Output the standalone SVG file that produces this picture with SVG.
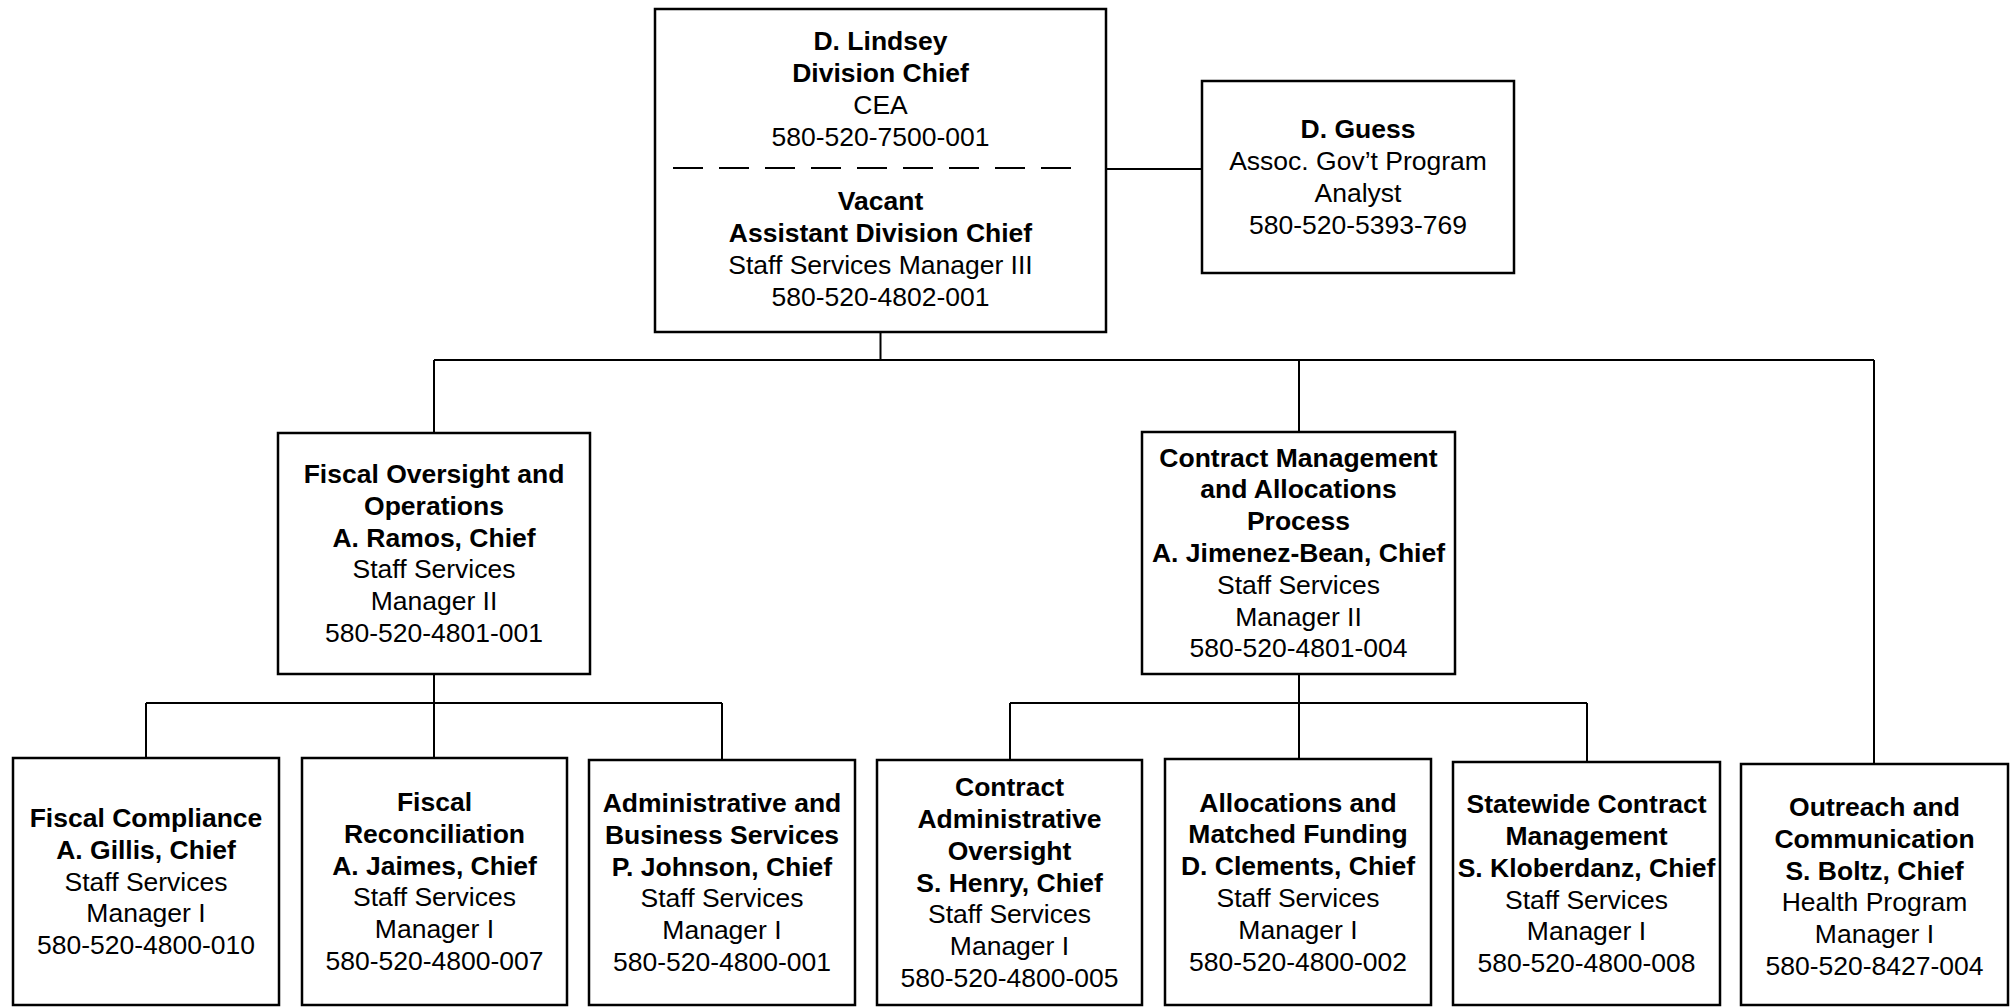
<svg xmlns="http://www.w3.org/2000/svg" width="2010" height="1007" viewBox="0 0 2010 1007">
<style>
.box{fill:#fff;stroke:#000;stroke-width:2.5}
.c{fill:none;stroke:#000;stroke-width:2}
text{font-family:"Liberation Sans",Arial,sans-serif;font-size:26.5px;text-anchor:middle;fill:#000}
.b{font-weight:bold}
.dash{stroke:#000;stroke-width:2;stroke-dasharray:30 16}
</style>
<rect width="2010" height="1007" fill="#fff"/>
<g id="connectors">
<path class="c" d="M1106,169H1202"/>
<path class="c" d="M880.5,332V360M434,360H1874M434,360V433M1299,360V432M1874,360V764"/>
<path class="c" d="M434,674V703M146,703H722M146,703V758M434,703V758M722,703V760"/>
<path class="c" d="M1299,674V703M1010,703H1587M1010,703V760M1299,703V759M1587,703V762"/>
</g>
<g id="n-lindsey">
<rect class="box" x="655" y="9" width="451" height="323"/>
<text class="b" x="880.5" y="50">D. Lindsey</text>
<text class="b" x="880.5" y="82">Division Chief</text>
<text x="880.5" y="114">CEA</text>
<text x="880.5" y="146">580-520-7500-001</text>
<line class="dash" x1="673" y1="168" x2="1072" y2="168"/>
<text class="b" x="880.5" y="210">Vacant</text>
<text class="b" x="880.5" y="242">Assistant Division Chief</text>
<text x="880.5" y="274">Staff Services Manager III</text>
<text x="880.5" y="306">580-520-4802-001</text>
</g>
<g id="n-guess">
<rect class="box" x="1202" y="81" width="312" height="192"/>
<text class="b" x="1358" y="138">D. Guess</text>
<text x="1358" y="170">Assoc. Gov’t Program</text>
<text x="1358" y="202">Analyst</text>
<text x="1358" y="234">580-520-5393-769</text>
</g>
<g id="n-fiscal-oversight">
<rect class="box" x="278" y="433" width="312" height="241"/>
<text class="b" x="434" y="483">Fiscal Oversight and</text>
<text class="b" x="434" y="515">Operations</text>
<text class="b" x="434" y="547">A. Ramos, Chief</text>
<text x="434" y="578">Staff Services</text>
<text x="434" y="610">Manager II</text>
<text x="434" y="642">580-520-4801-001</text>
</g>
<g id="n-contract-mgmt">
<rect class="box" x="1142" y="432" width="313" height="242"/>
<text class="b" x="1298.5" y="467">Contract Management</text>
<text class="b" x="1298.5" y="498">and Allocations</text>
<text class="b" x="1298.5" y="530">Process</text>
<text class="b" x="1298.5" y="562">A. Jimenez-Bean, Chief</text>
<text x="1298.5" y="594">Staff Services</text>
<text x="1298.5" y="626">Manager II</text>
<text x="1298.5" y="657">580-520-4801-004</text>
</g>
<g id="n-fiscal-compliance">
<rect class="box" x="13" y="758" width="266" height="247"/>
<text class="b" x="146" y="827">Fiscal Compliance</text>
<text class="b" x="146" y="859">A. Gillis, Chief</text>
<text x="146" y="890.5">Staff Services</text>
<text x="146" y="922">Manager I</text>
<text x="146" y="954">580-520-4800-010</text>
</g>
<g id="n-fiscal-reconciliation">
<rect class="box" x="302" y="758" width="265" height="247"/>
<text class="b" x="434.5" y="811">Fiscal</text>
<text class="b" x="434.5" y="843">Reconciliation</text>
<text class="b" x="434.5" y="875">A. Jaimes, Chief</text>
<text x="434.5" y="906">Staff Services</text>
<text x="434.5" y="938">Manager I</text>
<text x="434.5" y="970">580-520-4800-007</text>
</g>
<g id="n-admin-business">
<rect class="box" x="589" y="760" width="266" height="245"/>
<text class="b" x="722" y="812">Administrative and</text>
<text class="b" x="722" y="844">Business Services</text>
<text class="b" x="722" y="876">P. Johnson, Chief</text>
<text x="722" y="907">Staff Services</text>
<text x="722" y="939">Manager I</text>
<text x="722" y="971">580-520-4800-001</text>
</g>
<g id="n-contract-admin">
<rect class="box" x="877" y="760" width="265" height="245"/>
<text class="b" x="1009.5" y="796">Contract</text>
<text class="b" x="1009.5" y="828">Administrative</text>
<text class="b" x="1009.5" y="860">Oversight</text>
<text class="b" x="1009.5" y="891.5">S. Henry, Chief</text>
<text x="1009.5" y="923">Staff Services</text>
<text x="1009.5" y="955">Manager I</text>
<text x="1009.5" y="987">580-520-4800-005</text>
</g>
<g id="n-allocations">
<rect class="box" x="1165" y="759" width="266" height="246"/>
<text class="b" x="1298" y="811.5">Allocations and</text>
<text class="b" x="1298" y="843">Matched Funding</text>
<text class="b" x="1298" y="875">D. Clements, Chief</text>
<text x="1298" y="907">Staff Services</text>
<text x="1298" y="939">Manager I</text>
<text x="1298" y="970.5">580-520-4800-002</text>
</g>
<g id="n-statewide">
<rect class="box" x="1453" y="762" width="267" height="243"/>
<text class="b" x="1586.5" y="813">Statewide Contract</text>
<text class="b" x="1586.5" y="845">Management</text>
<text class="b" x="1586.5" y="877">S. Kloberdanz, Chief</text>
<text x="1586.5" y="908.5">Staff Services</text>
<text x="1586.5" y="940">Manager I</text>
<text x="1586.5" y="972">580-520-4800-008</text>
</g>
<g id="n-outreach">
<rect class="box" x="1741" y="764" width="267" height="241"/>
<text class="b" x="1874.5" y="816">Outreach and</text>
<text class="b" x="1874.5" y="848">Communication</text>
<text class="b" x="1874.5" y="880">S. Boltz, Chief</text>
<text x="1874.5" y="911">Health Program</text>
<text x="1874.5" y="943">Manager I</text>
<text x="1874.5" y="975">580-520-8427-004</text>
</g>
</svg>
